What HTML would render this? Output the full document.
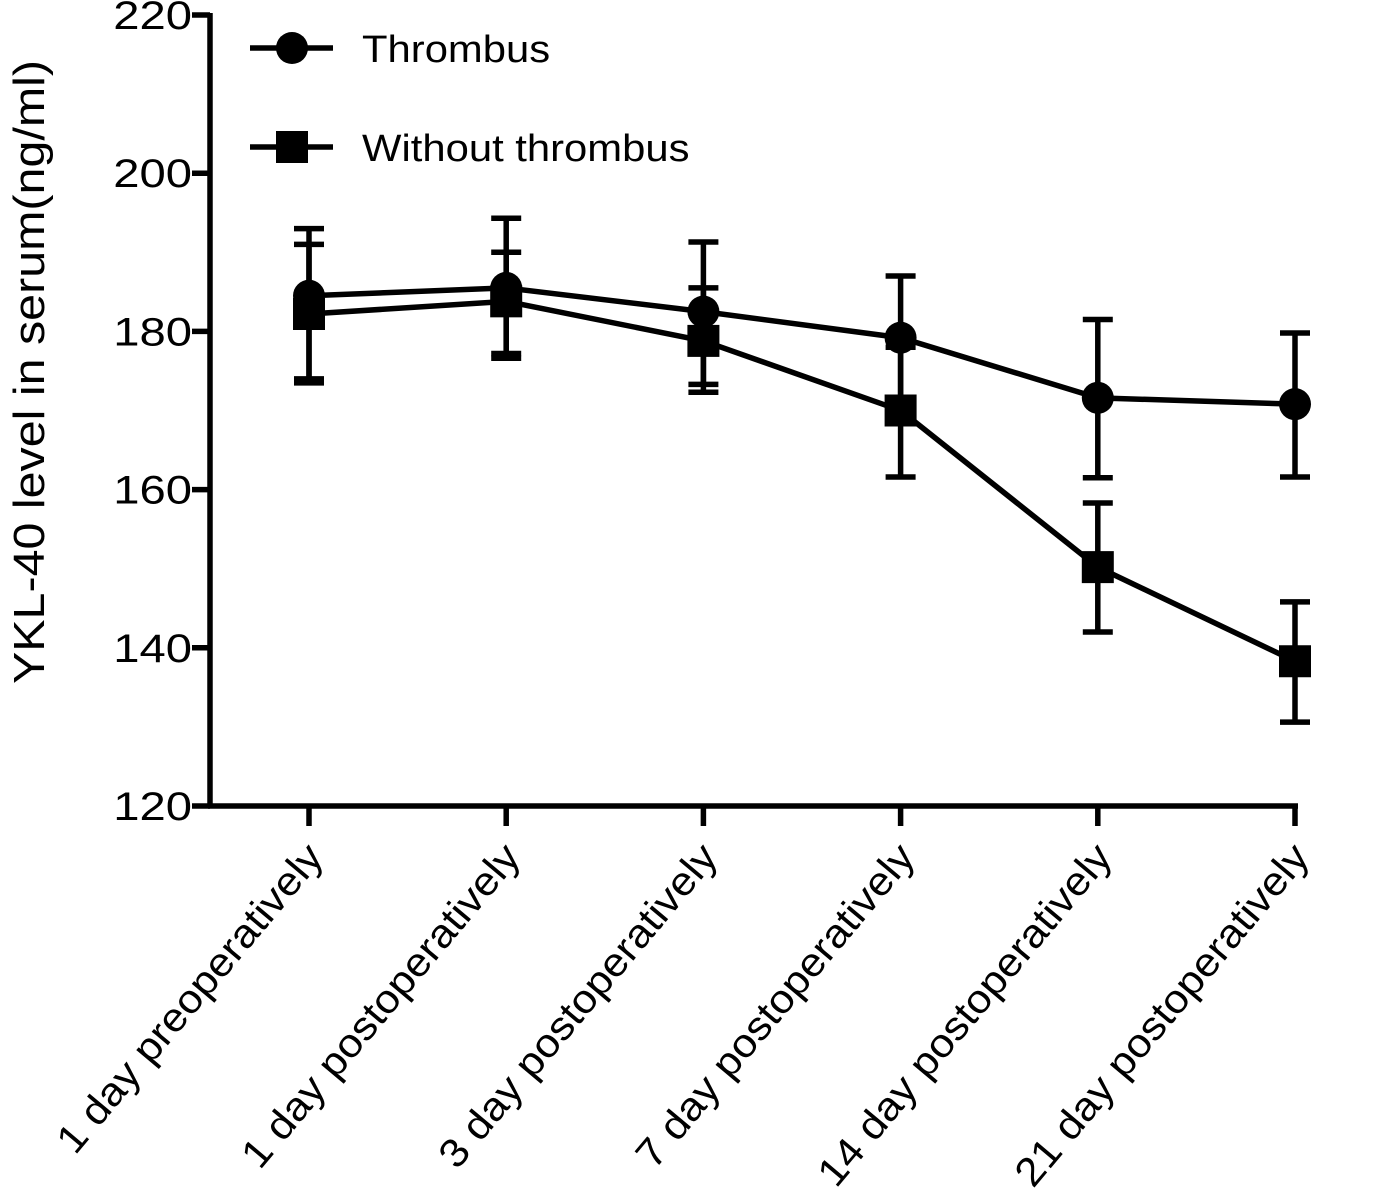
<!DOCTYPE html>
<html><head><meta charset="utf-8"><style>
body{margin:0;background:#fff;}
svg text{font-family:"Liberation Sans",Arial,sans-serif;fill:#000;}
</style></head><body>
<svg id="chart" width="1390" height="1195" viewBox="0 0 1390 1195" xmlns="http://www.w3.org/2000/svg"></svg>
<script>
const categories=["1 day preoperatively","1 day postoperatively","3 day postoperatively","7 day postoperatively","14 day postoperatively","21 day postoperatively"];
const thrombusValues=[184.5,185.5,182.5,179.2,171.6,170.8];
const thrombusUpper=[193,194.3,191.3,187,181.5,179.8];
const thrombusLower=[174,177.2,173.3,169,161.5,161.6];
const withoutValues=[182.2,183.8,178.8,170,150.2,138.3];
const withoutUpper=[191,190,185.5,178,158.3,145.8];
const withoutLower=[173.5,176.6,172.3,161.6,142,130.6];
const yTicks=[120,140,160,180,200,220];
const svg=document.getElementById('chart');
const NS='http://www.w3.org/2000/svg';
const x0=309,dx=197.2;
function xs(i){return x0+i*dx;}
function ys(v){return 806-(v-120)*(791/100);}
function mk(tag,attrs,parent){const e=document.createElementNS(NS,tag);for(const k in attrs)e.setAttribute(k,attrs[k]);(parent||svg).appendChild(e);return e;}
let ax=mk('line',{x1:210,y1:13,x2:210,y2:808,stroke:'#000','stroke-width':5.5});


let bx=mk('line',{x1:208,y1:806,x2:1298,y2:806,stroke:'#000','stroke-width':5.5});


yTicks.forEach(t=>{
  const tk=mk('line',{x1:192,y1:ys(t),x2:210,y2:ys(t),stroke:'#000','stroke-width':5.5});
  
  
  const tl=mk('text',{x:0,y:0,'text-anchor':'end','font-size':40,transform:`translate(192,${ys(t)+14}) scale(1.18,1)`});
  tl.textContent=t;
  
  
});
const yt=mk('text',{x:0,y:0,'text-anchor':'middle','font-size':44,transform:'translate(44,372) rotate(-90) scale(1.1,1)'});
yt.textContent='YKL-40 level in serum(ng/ml)';


categories.forEach((c,i)=>{
  const tk=mk('line',{x1:xs(i),y1:806,x2:xs(i),y2:826,stroke:'#000','stroke-width':5.5});
  
  
  const tl=mk('text',{x:0,y:0,'text-anchor':'end','font-size':40,transform:`translate(${xs(i)+16},${858}) rotate(-50) scale(1.08,1)`});
  tl.textContent=c;
  
  
});
function series(vals,up,lo,shape,name){
  const g=mk('g',{});
  
  
  vals.forEach((v,i)=>{
    const x=xs(i);
    const e1=mk('line',{x1:x,y1:ys(up[i]),x2:x,y2:ys(lo[i]),stroke:'#000','stroke-width':5.5},g);
    
    
    [up[i],lo[i]].forEach(b=>{
      const c=mk('line',{x1:x-15,y1:ys(b),x2:x+15,y2:ys(b),stroke:'#000','stroke-width':5.5},g);
      
      
    });
  });
  const pl=mk('polyline',{points:vals.map((v,i)=>xs(i)+','+ys(v)).join(' '),fill:'none',stroke:'#000','stroke-width':5.5},g);
  
  
  vals.forEach((v,i)=>{
    let m;
    if(shape==='circle')m=mk('circle',{cx:xs(i),cy:ys(v),r:16,fill:'#000'},g);
    else m=mk('rect',{x:xs(i)-16,y:ys(v)-16,width:32,height:32,fill:'#000'},g);
    
    
  });
}
series(thrombusValues,thrombusUpper,thrombusLower,'circle','thrombus');
series(withoutValues,withoutUpper,withoutLower,'square','without-thrombus');
function legend(y,shape,label,name){
  const g=mk('g',{});
  
  
  mk('line',{x1:250,y1:y,x2:333,y2:y,stroke:'#000','stroke-width':5.5},g);
  if(shape==='circle')mk('circle',{cx:292,cy:y,r:16,fill:'#000'},g);
  else mk('rect',{x:276,y:y-16,width:32,height:32,fill:'#000'},g);
  const t=mk('text',{x:0,y:0,'font-size':38,transform:`translate(362,${y+14}) scale(1.1,1)`},g);t.textContent=label;
}
legend(48,'circle','Thrombus','legend-thrombus');
legend(147,'square','Without thrombus','legend-without-thrombus');
</script>
</body></html>
